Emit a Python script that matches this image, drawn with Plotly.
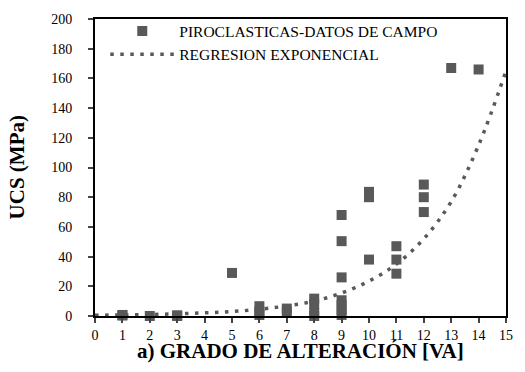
import plotly.graph_objects as go

# Field data (grado de alteración VA, UCS MPa)
campo_va = [1, 1, 2, 3, 3, 5, 6, 6, 6, 7, 7, 8, 8, 8, 8,
            9, 9, 9, 9, 9, 9, 9, 10, 10, 10, 11, 11, 11, 12, 12, 12, 13, 14]
campo_ucs = [0.7, 0.3, 0.0, 0.5, 0.0, 29, 6.6, 3, 0.7, 5, 3, 11.7, 8, 2, 0.0,
             68, 50.4, 26, 10.6, 7.3, 4, 0.7, 83.6, 80, 38, 47, 38, 28.5, 88.5, 80, 70, 167, 166]

# Exponential regression curve
reg_va = [0, 1, 2, 3, 4, 5, 6, 7, 8, 9, 10, 11, 12, 13, 14, 15]
reg_ucs = [0.5, 0.7, 1.0, 1.5, 2.1, 3.0, 4.5, 6.8, 10, 15.5, 23.5, 35, 52, 77, 115, 165]

x_ticks = list(range(0, 16))
y_ticks = list(range(0, 201, 20))

font_fam = "Liberation Serif, Times New Roman, serif"
gray = "#595959"

fig = go.Figure()
fig.add_trace(go.Scatter(
    x=reg_va, y=reg_ucs, mode="lines", line_shape="spline",
    line=dict(color=gray, width=3.5, dash="3.5px,6.5px"),
    name="REGRESION EXPONENCIAL", cliponaxis=False))
fig.add_trace(go.Scatter(
    x=campo_va, y=campo_ucs, mode="markers",
    marker=dict(symbol="square", size=10, color=gray),
    name="PIROCLASTICAS-DATOS DE CAMPO", cliponaxis=False))

fig.update_layout(
    width=525, height=372,
    margin=dict(l=95, r=12, t=15, b=56),
    paper_bgcolor="white", plot_bgcolor="white",
    font=dict(family=font_fam, size=14, color="black"),
    showlegend=True,
    legend=dict(x=0.025, y=1.015, xanchor="left", yanchor="top",
                traceorder="reversed", bgcolor="rgba(0,0,0,0)",
                font=dict(size=15.5, family=font_fam), itemwidth=64,
                tracegroupgap=0),
    xaxis=dict(range=[0, 15], tickvals=x_ticks, ticks="outside", ticklen=5,
               tickwidth=1.5, showline=True, linewidth=2, linecolor="black",
               mirror=True, showgrid=False, zeroline=False,
               ticklabelstandoff=0, tickfont=dict(size=14)),
    yaxis=dict(range=[0, 200], tickvals=y_ticks, ticks="outside", ticklen=5,
               tickwidth=1.5, showline=True, linewidth=2, linecolor="black",
               mirror=True, showgrid=False, zeroline=False,
               ticklabelstandoff=13, tickfont=dict(size=14)),
    annotations=[
        dict(text="<b>a) GRADO DE ALTERACIÓN [VA]</b>", xref="paper", yref="paper",
             x=0.5, y=-0.07, xanchor="center", yanchor="top", showarrow=False,
             font=dict(size=21, family=font_fam)),
        dict(text="<b>UCS (MPa)</b>", xref="paper", yref="paper",
             x=-0.19, y=0.5, xanchor="center", yanchor="middle", showarrow=False,
             textangle=-90, font=dict(size=21, family=font_fam)),
    ],
)

fig.write_html("out.html")
